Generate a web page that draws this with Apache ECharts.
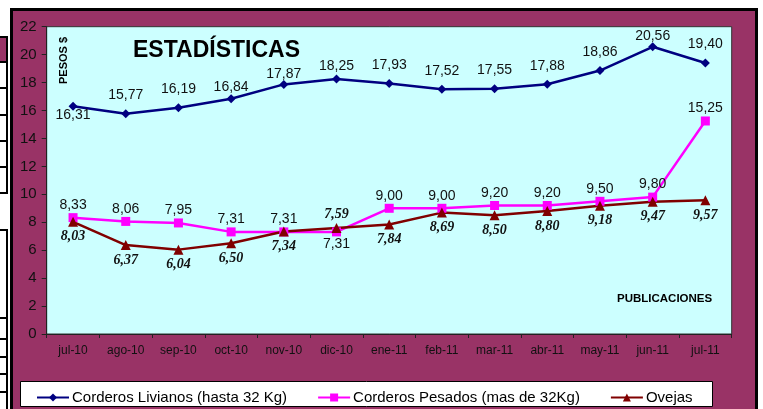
<!DOCTYPE html>
<html><head><meta charset="utf-8">
<script src="https://cdn.jsdelivr.net/npm/echarts@6/dist/echarts.min.js"></script>
<style>html,body{margin:0;padding:0;background:#fff;}#c{width:763px;height:409px;}</style>
</head><body><div id="c"></div>
<script>
const categories = ['jul-10','ago-10','sep-10','oct-10','nov-10','dic-10','ene-11','feb-11','mar-11','abr-11','may-11','jun-11','jul-11'];
const livianos = [16.31,15.77,16.19,16.84,17.87,18.25,17.93,17.52,17.55,17.88,18.86,20.56,19.40];
const pesados = [8.33,8.06,7.95,7.31,7.31,7.31,9.00,9.00,9.20,9.20,9.50,9.80,15.25];
const ovejas = [8.03,6.37,6.04,6.50,7.34,7.59,7.84,8.69,8.50,8.80,9.18,9.47,9.57];
const seriesNames = ['Corderos Livianos (hasta 32 Kg)','Corderos Pesados (mas de 32Kg)','Ovejas'];
const yTicks = {min:0, max:22, interval:2};

const fmt = p => p.value.toFixed(2).replace('.', ',');
// label placement overrides: {index: [position, distance]}
function mk(vals, overrides){
  return vals.map((v,i)=> overrides[i] ? {value:v, label:{position:overrides[i][0], distance:overrides[i][1]}} : v);
}
const chart = echarts.init(document.getElementById('c'));
const arial = 'Arial, "Liberation Sans", sans-serif';
const option = {
  animation:false,
  backgroundColor:'#ffffff',
  graphic:[
    {type:'rect', shape:{x:-5,y:37,width:12,height:25}, style:{fill:'#993366'}, z:-10},
    {type:'rect', shape:{x:-5,y:37,width:12,height:156}, style:{fill:'none',stroke:'#000',lineWidth:2}, z:-9},
    ...[62,88,115,141,167].map(y=>({type:'line', shape:{x1:0,y1:y,x2:7,y2:y}, style:{stroke:'#000',lineWidth:2}, z:-9})),
    {type:'rect', shape:{x:-5,y:230,width:12,height:200}, style:{fill:'none',stroke:'#000',lineWidth:2}, z:-9},
    ...[318,339,357,374,392].map(y=>({type:'line', shape:{x1:0,y1:y,x2:7,y2:y}, style:{stroke:'#000',lineWidth:2}, z:-9})),
    {type:'rect', shape:{x:11.5,y:9.5,width:745,height:420}, style:{fill:'#993366',stroke:'#000',lineWidth:3}, z:-8},
    {type:'rect', shape:{x:46.7,y:26.7,width:685,height:307.3}, style:{fill:'#CCFFFF',stroke:'#333',lineWidth:1}, z:-7},
    {type:'rect', shape:{x:20.5,y:381.5,width:692,height:25}, style:{fill:'#fff',stroke:'#000',lineWidth:1}, z:-6},
    {type:'text', left:133, top:39, style:{text:'ESTADÍSTICAS', font:'bold 23px Arial, "Liberation Sans", sans-serif', fill:'#000'}, z:10},
    {type:'text', x:58, y:84, rotation:Math.PI/2, style:{text:'PESOS $', font:'bold 11px Arial, "Liberation Sans", sans-serif', fill:'#000'}, z:10},
    {type:'text', left:617, top:293, style:{text:'PUBLICACIONES', font:'bold 11.5px Arial, "Liberation Sans", sans-serif', fill:'#000'}, z:10}
  ],
  grid:{left:46.7, top:26.7, right:31.3, bottom:75, show:false},
  xAxis:{type:'category', data:categories, boundaryGap:true,
    axisLine:{lineStyle:{color:'#222', width:1}},
    axisTick:{show:true, inside:false, length:4, lineStyle:{color:'#222'}},
    axisLabel:{color:'#111', fontSize:12, fontFamily:arial, margin:11},
    splitLine:{show:false}},
  yAxis:{type:'value', min:yTicks.min, max:yTicks.max, interval:yTicks.interval,
    axisLine:{show:true, lineStyle:{color:'#222', width:1}},
    axisTick:{show:true, length:5, lineStyle:{color:'#222'}},
    axisLabel:{color:'#111', fontSize:15, fontFamily:arial, margin:10},
    splitLine:{show:false}},
  legend:{left:31, top:385, itemGap:30, itemWidth:32, itemHeight:10,
    textStyle:{fontSize:15, fontFamily:arial, color:'#000', padding:[0,0,0,-2]},
    data:seriesNames},
  series:[
    {name:seriesNames[0], type:'line',
      data:mk(livianos,{0:['bottom',-3],3:['top',0],4:['top',-1],5:['top',1],11:['top',-1]}),
      symbol:'diamond', symbolSize:9, color:'#000080', lineStyle:{width:2.5, color:'#000080'},
      label:{show:true, position:'top', distance:7, formatter:fmt, fontSize:14, fontFamily:arial, color:'#111'}},
    {name:seriesNames[1], type:'line', data:mk(pesados,{5:['bottom',1]}),
      symbol:'rect', symbolSize:9, color:'#FF00FF', lineStyle:{width:2.5, color:'#FF00FF'},
      label:{show:true, position:'top', distance:1, formatter:fmt, fontSize:14, fontFamily:arial, color:'#111'}},
    {name:seriesNames[2], type:'line', data:mk(ovejas,{5:['top',2]}),
      symbol:'triangle', symbolSize:10, color:'#800000', lineStyle:{width:2.5, color:'#800000'},
      label:{show:true, position:'bottom', distance:3, formatter:fmt, fontSize:14, fontStyle:'italic', fontWeight:'bold', fontFamily:'"Times New Roman", "Liberation Serif", serif', color:'#111'}}
  ]
};
chart.setOption(option);
</script></body></html>
